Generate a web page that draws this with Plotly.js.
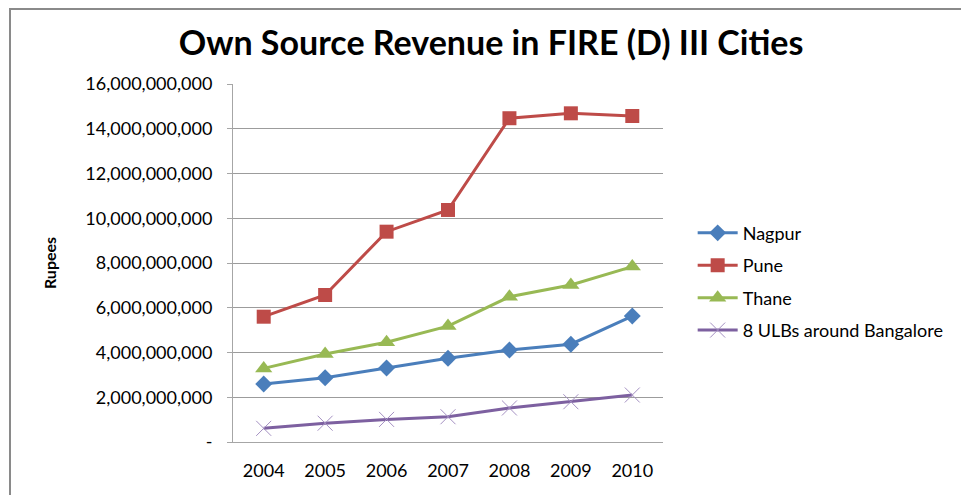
<!DOCTYPE html>
<html>
<head>
<meta charset="utf-8">
<script src="https://cdn.plot.ly/plotly-3.0.1.min.js"></script>
<style>
  html, body { margin: 0; padding: 0; background: #ffffff; }
  #wrap { position: relative; width: 961px; height: 495px; overflow: hidden; }
  #chart { width: 961px; height: 495px; }
  #frame { position: absolute; left: 9px; top: 8px; width: 1000px; height: 600px;
           border-left: 2px solid #8a8a8a; border-top: 2px solid #8a8a8a; pointer-events: none; }
</style>
</head>
<body>
<div id="wrap">
  <div id="chart"></div>
  <div id="frame"></div>
</div>
<script>
const years = ['2004', '2005', '2006', '2007', '2008', '2009', '2010'];
const nagpur = [2.59e9, 2.87e9, 3.31e9, 3.74e9, 4.11e9, 4.37e9, 5.63e9];
const pune = [5.60e9, 6.57e9, 9.40e9, 10.37e9, 14.47e9, 14.69e9, 14.57e9];
const thane = [3.29e9, 3.93e9, 4.46e9, 5.18e9, 6.49e9, 7.02e9, 7.84e9];
const bangalore = [0.61e9, 0.84e9, 1.01e9, 1.13e9, 1.52e9, 1.80e9, 2.10e9];
const seriesNames = ['Nagpur', 'Pune', 'Thane', '8 ULBs around Bangalore'];
const yTickVals = [0, 2e9, 4e9, 6e9, 8e9, 10e9, 12e9, 14e9, 16e9];
const yTickText = ['-', '2,000,000,000', '4,000,000,000', '6,000,000,000', '8,000,000,000',
                   '10,000,000,000', '12,000,000,000', '14,000,000,000', '16,000,000,000'];

const FONT = 'Lato, "Open Sans", sans-serif';

function tr(name, ys, color, symbol, size, markerColor, lineW) {
  return {
    type: 'scatter', mode: 'lines+markers', name: name, x: years, y: ys,
    legendgroup: name,
    line: { color: color, width: 3 },
    marker: { symbol: symbol, size: size, color: markerColor, line: { color: markerColor, width: lineW } }
  };
}

const data = [
  tr(seriesNames[0], nagpur, '#4a7ebb', 'diamond', 13, '#4a7ebb', 0),
  tr(seriesNames[1], pune, '#be4b48', 'square', 14, '#be4b48', 0),
  tr(seriesNames[2], thane, '#98b954', 'triangle-up', 15, '#98b954', 0),
  tr(seriesNames[3], bangalore, '#7d60a0', 'x-thin-open', 15, '#a490c2', 1)
];

const layout = {
  width: 961, height: 495,
  margin: { l: 233, r: 294, t: 84, b: 53 },
  paper_bgcolor: '#ffffff', plot_bgcolor: '#ffffff',
  font: { family: FONT, size: 18, color: '#000000' },
  title: {
    text: '<b>Own Source Revenue in FIRE (D) III Cities</b>',
    font: { family: FONT, size: 34, color: '#000000' },
    x: 0.511, xanchor: 'center', y: 0.912, yanchor: 'middle'
  },
  xaxis: {
    type: 'category', range: [-0.5, 6.5],
    showgrid: false, zeroline: false,
    showline: true, linecolor: '#a6a6a6', linewidth: 1,
    ticks: '', ticklen: 0, ticklabelstandoff: 12,
    tickfont: { family: FONT, size: 18, color: '#000000' }
  },
  yaxis: {
    range: [0, 16e9], tickvals: yTickVals, ticktext: yTickText,
    showgrid: true, gridcolor: '#9c9c9c', gridwidth: 1,
    zeroline: false, showline: true, linecolor: '#a6a6a6', linewidth: 1,
    ticks: 'outside', ticklen: 5, tickcolor: '#a6a6a6', ticklabelstandoff: 11,
    tickfont: { family: FONT, size: 18, color: '#000000' },
    title: { text: '<b>Rupees</b>', font: { family: FONT, size: 16, color: '#000000' }, standoff: 24 }
  },
  legend: {
    x: 1.069, xanchor: 'left', y: 0.635, yanchor: 'top',
    font: { family: FONT, size: 18, color: '#000000' },
    traceorder: 'grouped', tracegroupgap: 6,
    itemwidth: 40, bgcolor: 'rgba(0,0,0,0)'
  },
  showlegend: true
};

Plotly.newPlot('chart', data, layout, { displayModeBar: false, staticPlot: true });
</script>
</body>
</html>
